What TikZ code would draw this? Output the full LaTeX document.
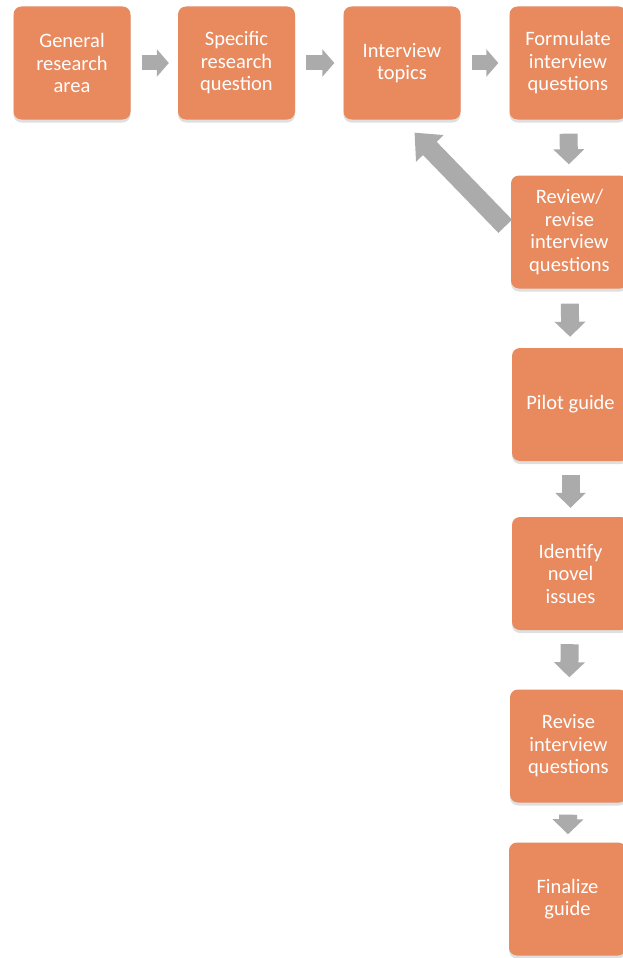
\documentclass[tikz,border=0pt]{standalone}
\usepackage{fontspec}
\setmainfont{Carlito}
\usepackage{xcolor}
\usetikzlibrary{arrows.meta,shadows}
\definecolor{boxorange}{HTML}{E8895E}
\definecolor{arrowgray}{HTML}{ABABAB}

\begin{document}
\begin{tikzpicture}[x=1pt,y=-1pt,
box/.style={rectangle,rounded corners=8pt,fill=boxorange,text=white,minimum width=117pt,minimum height=113pt,align=center,font=\fontsize{20.5}{22.5}\selectfont,drop shadow={opacity=0.25,shadow xshift=0pt,shadow yshift=-3pt}},
flow/.style={draw=arrowgray,line width=15pt,-{Triangle[length=12pt,width=27pt]}},
flowv/.style={draw=arrowgray,line width=18pt,-{Triangle[length=15pt,width=30pt]}},
back/.style={draw=arrowgray,line width=19pt,-{Triangle[length=22pt,width=37pt]}}]
\useasboundingbox[fill=white](0,0)rectangle(622,958);
\node[box](b1)at(72,63){General\\research\\area};
\node[box](b2)at(236.5,63){Specific\\research\\question};
\node[box](b3)at(402,63){Interview\\topics};
\node[box](b4)at(568,63){Formulate\\interview\\questions};
\node[box](b5)at(569.5,232){Review/\\revise\\interview\\questions};
\node[box](b6)at(570.5,404.5){Pilot guide};
\node[box](b7)at(570.5,573.5){Identify\\novel\\issues};
\node[box](b8)at(568.5,746){Revise\\interview\\questions};
\node[box](b9)at(567.5,899){Finalize\\guide};
\draw[flow,shorten <=11pt,shorten >=9pt](b1)--(b2);
\draw[flow,shorten <=11pt,shorten >=9pt](b2)--(b3);
\draw[flow,shorten <=11pt,shorten >=11pt](b3)--(b4);
\draw[flowv,shorten <=14pt,shorten >=11pt](b4)--(b5);
\draw[flowv,shorten <=15pt,shorten >=11pt](b5)--(b6);
\draw[flowv,shorten <=14pt,shorten >=9pt](b6)--(b7);
\draw[flowv,shorten <=14pt,shorten >=12pt](b7)--(b8);
\draw[flowv,shorten <=12pt,shorten >=8pt](b8)--(b9);
%\draw[back](b5.north west)--(b3.south east);
\draw[back,shorten <=8pt,shorten >=18pt](b5.west)--(b3.south);
\end{tikzpicture}
\end{document}
